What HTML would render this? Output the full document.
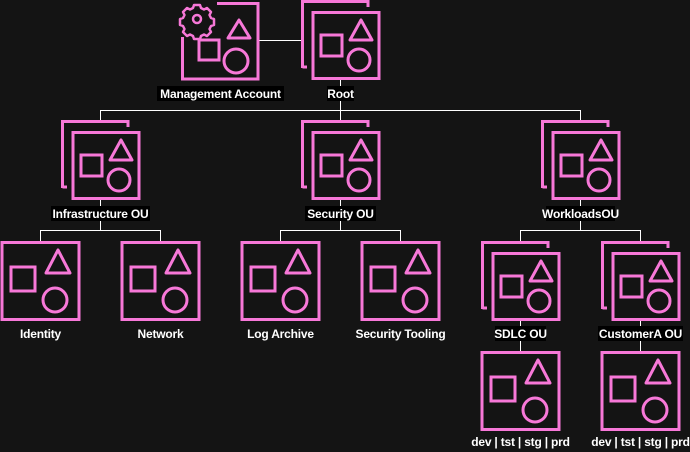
<!DOCTYPE html>
<html><head><meta charset="utf-8"><style>
html,body{margin:0;padding:0;background:#141414;}
svg{display:block}
text{font-family:"Liberation Sans",Arial,sans-serif;font-weight:bold;font-size:12px;fill:#fff;letter-spacing:-0.2px;}
</style></head><body>
<svg width="690" height="452" viewBox="0 0 690 452" xmlns="http://www.w3.org/2000/svg">
<defs>
<g id="acct" fill="none" stroke="#f778d8" stroke-width="3">
  <rect x="-38" y="1.5" width="77" height="77"/>
  <rect x="-29" y="26" width="24" height="24"/>
  <polygon points="18,9 30,32 6,32" stroke-linejoin="round"/>
  <circle cx="15" cy="59" r="12"/>
</g>
<g id="ou" fill="none" stroke="#f778d8" stroke-width="3">
  <polyline points="-37.5,68 -37.5,1.5 28,1.5 28,7"/>
  <line x1="-37.5" y1="67" x2="-33" y2="67"/>
  <rect x="-27" y="12.5" width="66" height="66"/>
  <rect x="-19" y="35" width="21" height="21"/>
  <polygon points="21,20 32,40 10,40" stroke-linejoin="round"/>
  <circle cx="19" cy="60" r="11"/>
</g>
</defs>
<g stroke="#fff" stroke-width="1" fill="none">
  <line x1="258" y1="40.5" x2="301" y2="40.5"/>
  <line x1="340.5" y1="80" x2="340.5" y2="120"/>
  <line x1="100" y1="110.5" x2="580" y2="110.5"/>
  <line x1="100.5" y1="110" x2="100.5" y2="121"/>
  <line x1="580.5" y1="110" x2="580.5" y2="121"/>
  <line x1="100.5" y1="200" x2="100.5" y2="230"/>
  <line x1="340.5" y1="200" x2="340.5" y2="230"/>
  <line x1="580.5" y1="200" x2="580.5" y2="230"/>
  <line x1="40" y1="230.5" x2="160" y2="230.5"/>
  <line x1="40.5" y1="230" x2="40.5" y2="241"/>
  <line x1="160.5" y1="230" x2="160.5" y2="241"/>
  <line x1="280" y1="230.5" x2="400" y2="230.5"/>
  <line x1="280.5" y1="230" x2="280.5" y2="241"/>
  <line x1="400.5" y1="230" x2="400.5" y2="241"/>
  <line x1="520" y1="230.5" x2="640" y2="230.5"/>
  <line x1="520.5" y1="230" x2="520.5" y2="241"/>
  <line x1="640.5" y1="230" x2="640.5" y2="241"/>
  <line x1="520.5" y1="320" x2="520.5" y2="351"/>
  <line x1="640.5" y1="320" x2="640.5" y2="351"/>
</g>
<g fill="none" stroke="#f778d8" stroke-width="3">
  <polyline points="217,3.5 258,3.5 258,79 182.5,79 182.5,37"/>
  <rect x="199" y="40" width="20" height="20"/>
  <polygon points="239,20 250,38 228,38" stroke-linejoin="round"/>
  <circle cx="236" cy="61" r="12"/>
  <path d="M194,5 h6 l1,3 l3,1.5 l3,-1.5 l4,4 l-1.5,3 l1.5,3 l3,1 v6 l-3,1 l-1.5,3 l1.5,3 l-4,4 l-3,-1.5 l-3,1.5 l-1,3 h-6 l-1,-3 l-3,-1.5 l-3,1.5 l-4,-4 l1.5,-3 l-1.5,-3 l-3,-1 v-6 l3,-1 l1.5,-3 l-1.5,-3 l4,-4 l3,1.5 l3,-1.5 z" stroke-width="2.5" stroke-linejoin="round"/>
  <circle cx="197" cy="19" r="4" stroke-width="2.5"/>
</g>
<use href="#ou" x="340" y="0"/>
<use href="#ou" x="100" y="120"/>
<use href="#ou" x="340" y="120"/>
<use href="#ou" x="580" y="120"/>
<use href="#acct" x="40" y="241"/>
<use href="#acct" x="160" y="241"/>
<use href="#acct" x="280" y="241"/>
<use href="#acct" x="400" y="241"/>
<use href="#ou" x="520" y="241"/>
<use href="#ou" x="640" y="241"/>
<use href="#acct" x="520" y="351"/>
<use href="#acct" x="640" y="351"/>
<g>
  <rect x="157" y="86" width="127" height="15" fill="#000"/>
  <text x="220.5" y="98" text-anchor="middle">Management Account</text>
  <rect x="327" y="86" width="27" height="15" fill="#000"/>
  <text x="340.5" y="98" text-anchor="middle">Root</text>
  <rect x="51" y="206" width="99" height="15" fill="#000"/>
  <text x="100.5" y="218" text-anchor="middle">Infrastructure OU</text>
  <rect x="305" y="206" width="71" height="15" fill="#000"/>
  <text x="340.5" y="218" text-anchor="middle">Security OU</text>
  <rect x="546" y="206" width="69" height="15" fill="#000"/>
  <text x="580.5" y="218" text-anchor="middle">WorkloadsOU</text>
  <text x="40.5" y="338" text-anchor="middle">Identity</text>
  <text x="160.5" y="338" text-anchor="middle">Network</text>
  <text x="280.5" y="338" text-anchor="middle">Log Archive</text>
  <text x="400.5" y="338" text-anchor="middle">Security Tooling</text>
  <rect x="495" y="326" width="51" height="15" fill="#000"/>
  <text x="520.5" y="338" text-anchor="middle">SDLC OU</text>
  <rect x="598" y="326" width="85" height="15" fill="#000"/>
  <text x="640.5" y="338" text-anchor="middle">CustomerA OU</text>
  <text x="520.5" y="446" text-anchor="middle">dev | tst | stg | prd</text>
  <text x="640.5" y="446" text-anchor="middle">dev | tst | stg | prd</text>
</g>
</svg>
</body></html>
